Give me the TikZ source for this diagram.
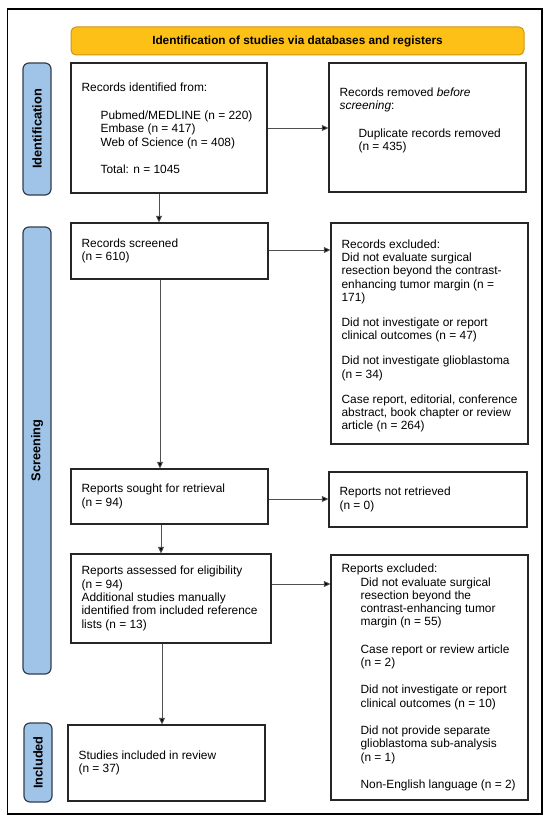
\documentclass[tikz,border=0pt]{standalone}
\usepackage{fontspec}
\setmainfont{Liberation Sans}
\usetikzlibrary{arrows.meta,calc}
\definecolor{bannerfill}{RGB}{253,192,22}
\definecolor{bannerdraw}{RGB}{205,150,25}
\definecolor{labfill}{RGB}{160,196,232}
\definecolor{labdraw}{RGB}{50,62,78}
\definecolor{arrcol}{RGB}{80,80,80}
\begin{document}
\begin{tikzpicture}[x=1pt,y=-1pt,
  box/.style={draw=black!85, line width=1.2pt, inner sep=0pt},
  txt/.style={anchor=west, align=left, inner sep=0pt, font=\fontsize{11.9}{13.3}\selectfont},
  sidelab/.style={draw=labdraw, fill=labfill, line width=1.2pt, rounded corners=6pt, inner sep=0pt},
  sidetxt/.style={rotate=90, font=\fontsize{12.8}{14}\selectfont\bfseries, inner sep=0pt},
  arr/.style={draw=arrcol, line width=0.9pt, -{Triangle[length=6.5pt,width=6pt,fill=black]}}
]
\useasboundingbox (0,0) rectangle (550,821);
\fill[white] (0,0) rectangle (550,821);
% outer frame
\node[draw=black, line width=1.8pt, minimum width=534.5pt, minimum height=805pt, inner sep=0pt] (frame) at (274.75,411.5) {};
% banner
\node[draw=bannerdraw, fill=bannerfill, line width=1pt, rounded corners=5pt, minimum width=453pt, minimum height=28pt, inner sep=0pt,
  font=\fontsize{11.8}{13}\selectfont\bfseries] (banner) at (297.5,41) {Identification of studies via databases and registers};
% side labels
\node[sidelab, minimum width=28pt, minimum height=132pt] (lid) at (37,129) {};
\node[sidetxt] (lidt) at (lid.center) {Identification};
\node[sidelab, minimum width=28pt, minimum height=447pt] (lscr) at (37,450.5) {};
\node[sidetxt] (lscrt) at (lscr.center) {Screening};
\node[sidelab, minimum width=28pt, minimum height=79pt] (linc) at (38,762.5) {};
\node[sidetxt] (linct) at (linc.center) {Included};
% boxes
\node[box, minimum width=196pt, minimum height=130pt] (idb) at (169,128) {};
\node[box, minimum width=197pt, minimum height=129pt] (rem) at (427.5,127.5) {};
\node[box, minimum width=197pt, minimum height=56pt] (scr) at (169.5,251) {};
\node[box, minimum width=197pt, minimum height=221pt] (exc) at (429.5,333.5) {};
\node[box, minimum width=197pt, minimum height=55pt] (sou) at (169.5,496.5) {};
\node[box, minimum width=198pt, minimum height=55pt] (nr) at (428,499.5) {};
\node[box, minimum width=200pt, minimum height=89pt] (ass) at (171,598.5) {};
\node[box, minimum width=197pt, minimum height=245pt] (rex) at (429.5,677.5) {};
\node[box, minimum width=197pt, minimum height=76pt] (inc) at (166.5,763) {};
% texts
\node[txt] (idbt) at ([xshift=11pt]idb.west) {Records identified from:\\[15pt]
\hspace*{19pt}Pubmed/MEDLINE (n = 220)\\
\hspace*{19pt}Embase (n = 417)\\
\hspace*{19pt}Web of Science (n = 408)\\[14pt]
\hspace*{19pt}Total: n = 1045};
\node[txt] (remt) at ([xshift=11pt,yshift=7pt]rem.west) {Records removed \textit{before}\\
\textit{screening}:\\[14pt]
\hspace*{19pt}Duplicate records removed\\
\hspace*{19pt}(n = 435)};
\node[txt] (scrt) at ([xshift=11pt]scr.west) {Records screened\\(n = 610)};
\node[txt] (exct) at ([xshift=11pt,yshift=-2.5pt]exc.west) {Records excluded:\\
Did not evaluate surgical\\
resection beyond the contrast-\\
enhancing tumor margin (n =\\
171)\\[11.7pt]
Did not investigate or report\\
clinical outcomes (n = 47)\\[11.7pt]
Did not investigate glioblastoma\\
(n = 34)\\[11.7pt]
Case report, editorial, conference\\
abstract, book chapter or review\\
article (n = 264)};
\node[txt] (sout) at ([xshift=11pt]sou.west) {Reports sought for retrieval\\(n = 94)};
\node[txt] (nrt) at ([xshift=11pt]nr.west) {Reports not retrieved\\(n = 0)};
\node[txt] (asst) at ([xshift=11pt]ass.west) {Reports assessed for eligibility\\
(n = 94)\\
Additional studies manually\\
identified from included reference\\
lists (n = 13)};
\node[txt] (rext) at ([xshift=11pt]rex.west) {Reports excluded:\\
\hspace*{19pt}Did not evaluate surgical\\
\hspace*{19pt}resection beyond the\\
\hspace*{19pt}contrast-enhancing tumor\\
\hspace*{19pt}margin (n = 55)\\[14pt]
\hspace*{19pt}Case report or review article\\
\hspace*{19pt}(n = 2)\\[14pt]
\hspace*{19pt}Did not investigate or report\\
\hspace*{19pt}clinical outcomes (n = 10)\\[14pt]
\hspace*{19pt}Did not provide separate\\
\hspace*{19pt}glioblastoma sub-analysis\\
\hspace*{19pt}(n = 1)\\[14pt]
\hspace*{19pt}Non-English language (n = 2)};
\node[txt] (inct) at ([xshift=11pt]inc.west) {Studies included in review\\(n = 37)};
% horizontal arrows
\draw[arr] (idb.east) -- (idb.east -| rem.west);
\draw[arr] ([yshift=1pt]scr.east) -- ([yshift=1pt]scr.east -| exc.west);
\draw[arr] ([yshift=-2.5pt]sou.east) -- ([yshift=-2.5pt]sou.east -| nr.west);
\draw[arr] ([yshift=14.5pt]ass.east) -- ([yshift=14.5pt]ass.east -| rex.west);
% vertical arrows
\draw[arr] ([xshift=-10pt]idb.south) -- ([xshift=-10pt]idb.south |- scr.north);
\draw[arr] ([xshift=-9.5pt]scr.south) -- ([xshift=-9.5pt]scr.south |- sou.north);
\draw[arr] ([xshift=-8.5pt]sou.south) -- ([xshift=-8.5pt]sou.south |- ass.north);
\draw[arr] ([xshift=-9pt]ass.south) -- ([xshift=-9pt]ass.south |- inc.north);
\end{tikzpicture}
\end{document}
